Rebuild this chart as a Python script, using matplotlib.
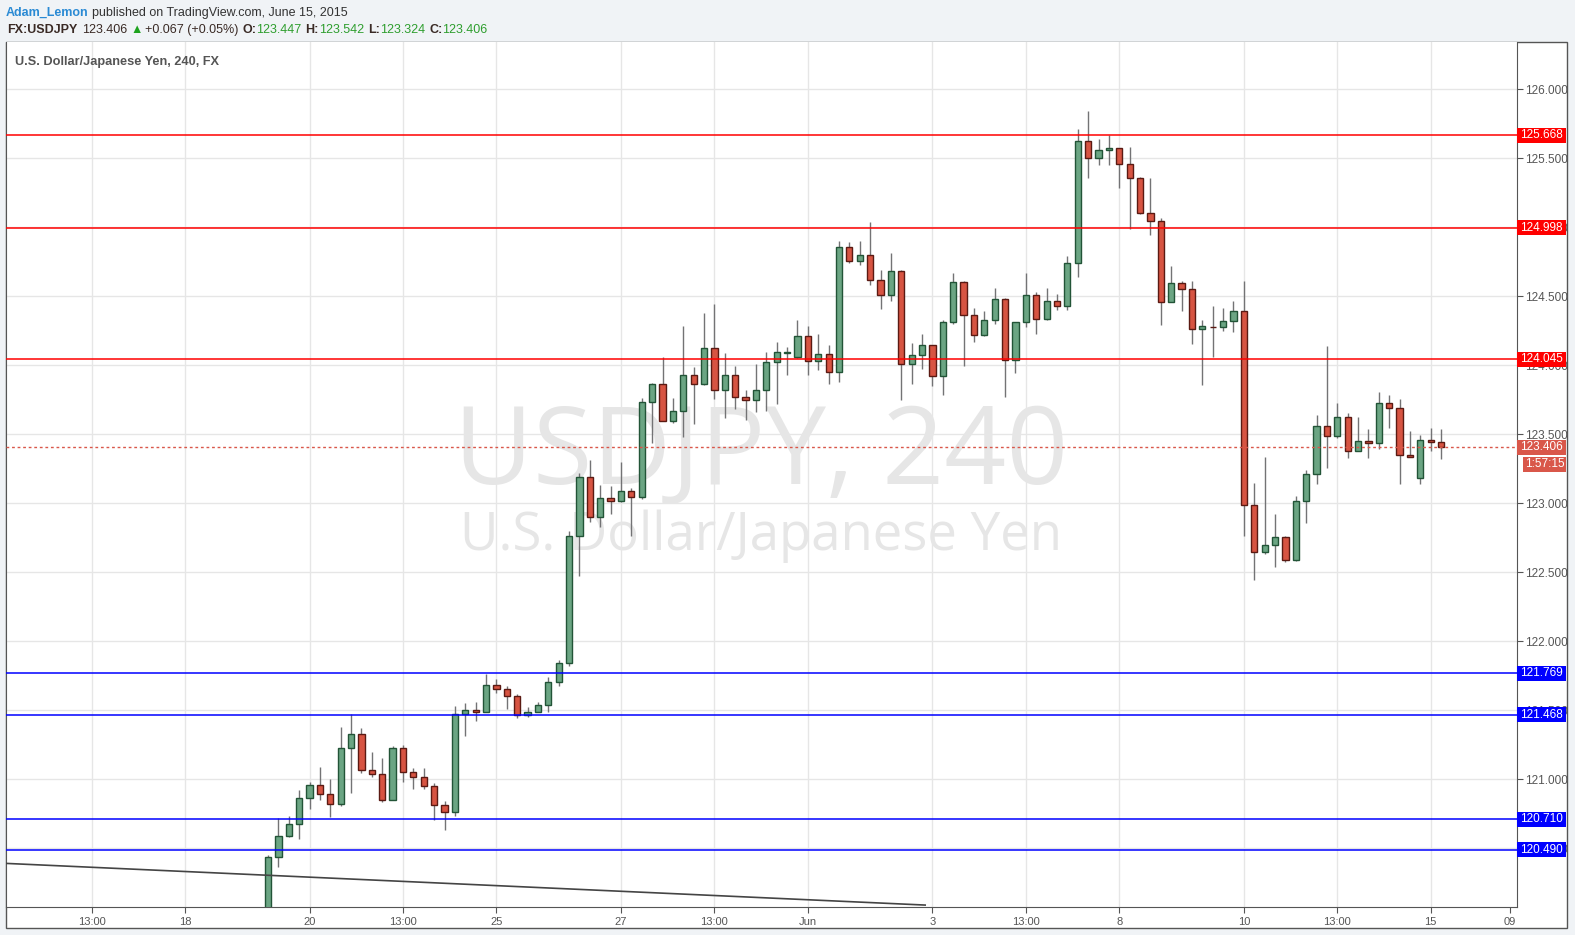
import matplotlib
matplotlib.use('Agg')
import matplotlib.pyplot as plt
import numpy as np
from matplotlib.patches import Rectangle
from matplotlib.transforms import blended_transform_factory

plt.rcParams['font.family'] = ['Liberation Sans', 'DejaVu Sans']

# USDJPY 4h candles (index 0 = first candle visible in the window)
opens = [119.95, 120.435, 120.587, 120.674, 120.862, 120.956, 120.891, 120.819, 121.224, 121.326,
         121.065, 121.036, 120.848, 121.224, 121.050, 121.014, 120.949, 120.811, 120.765, 121.471,
         121.500, 121.485, 121.681, 121.652, 121.601, 121.463, 121.485, 121.536, 121.703, 121.840,
         122.763, 123.188, 122.898, 123.036, 123.014, 123.087, 123.043, 123.732, 123.862, 123.594,
         123.666, 123.927, 123.862, 124.123, 123.819, 123.927, 123.768, 123.746, 123.819, 124.021,
         124.092, 124.058, 124.210, 124.029, 124.080, 123.949, 124.855, 124.753, 124.797, 124.616,
         124.507, 124.681, 124.007, 124.072, 124.145, 123.920, 124.311, 124.601, 124.362, 124.217,
         124.326, 124.478, 124.036, 124.311, 124.507, 124.333, 124.464, 124.427, 124.739, 125.623,
         125.500, 125.558, 125.572, 125.456, 125.355, 125.101, 125.043, 124.456, 124.594, 124.550,
         124.261, 124.280, 124.275, 124.319, 124.391, 122.985, 122.645, 122.695, 122.753, 122.587,
         123.014, 123.210, 123.558, 123.485, 123.623, 123.377, 123.449, 123.435, 123.724, 123.688,
         123.348, 123.181, 123.456, 123.447]
highs = [120.45, 120.717, 120.734, 120.922, 120.978, 121.089, 121.002, 121.379, 121.471, 121.372,
         121.198, 121.154, 121.241, 121.246, 121.082, 121.082, 120.971, 120.843, 121.531, 121.555,
         121.560, 121.765, 121.727, 121.676, 121.620, 121.524, 121.560, 121.741, 121.865, 122.802,
         123.222, 123.314, 123.133, 123.125, 123.299, 123.108, 123.763, 123.872, 124.058, 123.763,
         124.285, 123.985, 124.379, 124.444, 124.089, 123.995, 123.821, 124.009, 124.096, 124.169,
         124.130, 124.326, 124.285, 124.227, 124.147, 124.898, 124.891, 124.898, 125.036, 124.688,
         124.811, 124.688, 124.159, 124.224, 124.150, 124.326, 124.666, 124.609, 124.413, 124.391,
         124.558, 124.485, 124.315, 124.666, 124.529, 124.558, 124.514, 124.790, 125.710, 125.840,
         125.638, 125.666, 125.575, 125.579, 125.362, 125.355, 125.065, 124.717, 124.608, 124.608,
         124.326, 124.427, 124.413, 124.464, 124.611, 123.147, 123.333, 122.920, 122.761, 123.050,
         123.239, 123.638, 124.137, 123.724, 123.652, 123.623, 123.536, 123.804, 123.782, 123.753,
         123.522, 123.493, 123.543, 123.542]
lows = [119.90, 120.367, 120.585, 120.567, 120.787, 120.852, 120.729, 120.809, 120.903, 121.043,
        121.019, 120.838, 120.848, 120.983, 120.932, 120.932, 120.707, 120.635, 120.736, 121.314,
        121.425, 121.485, 121.623, 121.512, 121.442, 121.449, 121.485, 121.485, 121.676, 121.821,
        122.476, 122.867, 122.831, 122.920, 123.010, 122.766, 123.029, 123.435, 123.594, 123.580,
        123.483, 123.577, 123.855, 123.753, 123.616, 123.681, 123.601, 123.659, 123.666, 123.717,
        123.932, 124.050, 123.932, 123.968, 123.862, 123.881, 124.739, 124.724, 124.580, 124.410,
        124.468, 123.746, 123.867, 123.971, 123.848, 123.782, 124.297, 123.993, 124.166, 124.210,
        124.297, 123.768, 123.942, 124.275, 124.224, 124.330, 124.398, 124.398, 124.637, 125.355,
        125.449, 125.449, 125.282, 124.985, 125.100, 124.942, 124.290, 124.456, 124.391, 124.152,
        123.855, 124.058, 124.246, 124.239, 122.766, 122.447, 122.630, 122.536, 122.572, 122.580,
        122.855, 123.137, 123.254, 123.471, 123.326, 123.377, 123.326, 123.391, 123.543, 123.137,
        123.333, 123.137, 123.377, 123.324]
closes = [120.435, 120.587, 120.674, 120.862, 120.956, 120.891, 120.819, 121.224, 121.326, 121.065,
          121.036, 120.848, 121.224, 121.050, 121.014, 120.949, 120.811, 120.765, 121.471, 121.500,
          121.485, 121.681, 121.652, 121.601, 121.463, 121.485, 121.536, 121.703, 121.840, 122.763,
          123.188, 122.898, 123.036, 123.014, 123.087, 123.043, 123.732, 123.862, 123.594, 123.666,
          123.927, 123.862, 124.123, 123.819, 123.927, 123.768, 123.746, 123.819, 124.021, 124.094,
          124.096, 124.210, 124.029, 124.080, 123.949, 124.855, 124.753, 124.797, 124.616, 124.507,
          124.681, 124.007, 124.072, 124.145, 123.920, 124.311, 124.601, 124.362, 124.217, 124.326,
          124.478, 124.036, 124.311, 124.507, 124.333, 124.464, 124.427, 124.739, 125.623, 125.500,
          125.558, 125.572, 125.456, 125.355, 125.101, 125.043, 124.456, 124.594, 124.550, 124.261,
          124.282, 124.275, 124.319, 124.391, 122.985, 122.645, 122.695, 122.753, 122.587, 123.014,
          123.210, 123.558, 123.485, 123.623, 123.377, 123.449, 123.435, 123.724, 123.688, 123.348,
          123.333, 123.456, 123.442, 123.406]

red_levels = [125.668, 124.998, 124.045]
blue_levels = [121.769, 121.468, 120.710, 120.490]
trend_idx = [-25.24, 63.3]
trend_px = [120.391, 120.089]
last_price = 123.406
countdown = '1:57:15'

xtick_idx = [-17, -8, 4, 13, 22, 34, 43, 52, 64, 73, 82, 94, 103, 112, 119.6]
xtick_lab = ['13:00', '18', '20', '13:00', '25', '27', '13:00', 'Jun', '3', '13:00', '8', '10', '13:00', '15', '09']
ytick_vals = [120.5, 121.0, 121.5, 122.0, 122.5, 123.0, 123.5, 124.0, 124.5, 125.0, 125.5, 126.0]

W, H = 1575, 935
fig = plt.figure(figsize=(W / 100, H / 100), dpi=100, facecolor='#f0f3f6')

# white chart panel
fig.patches.append(Rectangle((6 / W, 1 - 928 / H), (1567 - 6) / W, (928 - 42) / H,
                             transform=fig.transFigure, facecolor='white',
                             edgecolor='#555555', lw=1, zorder=-5))

ax = fig.add_axes([6 / W, 1 - 907 / H, (1517 - 6) / W, (907 - 42) / H], zorder=2)
ax.set_facecolor('white')
ax.set_xlim(-25.24, 120.31)
ax.set_ylim(120.075, 126.343)

ax.set_xticks(xtick_idx)
ax.set_xticklabels(xtick_lab)
ax.set_yticks(ytick_vals)
ax.set_yticklabels(['%.3f' % v for v in ytick_vals])
ax.yaxis.tick_right()
ax.grid(True, color='#e6e6e6', lw=1)
ax.xaxis.get_gridlines()[-1].set_visible(False)
ax.set_axisbelow(True)
ax.tick_params(axis='x', direction='out', length=4, color='#555555', labelcolor='#555555',
               labelsize=8, pad=3)
ax.tick_params(axis='y', direction='out', length=4, color='#555555', labelcolor='#555555',
               labelsize=8.5, pad=2)
ax.spines['top'].set_visible(False)
for s in ['left', 'bottom', 'right']:
    ax.spines[s].set_color('#555555')

# watermark
ax.text(0.5, (484 - 907) / (42 - 907), 'USDJPY, 240', transform=ax.transAxes, ha='center',
        va='baseline', fontsize=78, color='#e6e6e6', family='Open Sans', zorder=0)
ax.text(0.5, (550 - 907) / (42 - 907), 'U.S. Dollar/Japanese Yen', transform=ax.transAxes,
        ha='center', va='baseline', fontsize=38, color='#e6e6e6', family='Open Sans', zorder=0)

ax.text(9 / 1511, 1 - 20 / 865, 'U.S. Dollar/Japanese Yen, 240, FX', transform=ax.transAxes,
        ha='left', va='center', fontsize=9.2, fontweight='bold', color='#555555')

# candles
o = np.array(opens)
h = np.array(highs)
l = np.array(lows)
c = np.array(closes)
x = np.arange(len(o))
up = c >= o
lo = np.minimum(o, c)
ht = np.maximum(np.abs(c - o), 0.004)
ax.vlines(x, l, h, color='#737375', lw=1, zorder=2)
ax.bar(x[up], ht[up], bottom=lo[up], width=0.6, color='#6ba583', edgecolor='#225437',
       lw=1, zorder=3)
ax.bar(x[~up], ht[~up], bottom=lo[~up], width=0.6, color='#d75442', edgecolor='#5b1a13',
       lw=1, zorder=3)

# horizontal levels and trend line
for v in red_levels:
    ax.axhline(v, color='#ff0000', lw=1.1, zorder=4)
for v in blue_levels:
    ax.axhline(v, color='#0000ff', lw=1.1, zorder=4)
ax.plot(trend_idx, trend_px, color='#444444', lw=1.2, zorder=4)
ax.axhline(last_price, color='#d9574a', lw=1, ls=(0, (2, 2)), zorder=4)

# price labels on the right axis
bt = blended_transform_factory(ax.transAxes, ax.transData)
bw = 49 / 1511
bh = 15 / 138.0


def price_box(v, fc, txt, x0=1.0):
    ax.add_patch(Rectangle((x0, v - bh / 2), 1 + bw - x0, bh, transform=bt, facecolor=fc,
                           edgecolor='none', clip_on=False, zorder=10))
    ax.text((x0 + 1 + bw) / 2, v, txt, transform=bt, ha='center', va='center', color='white',
            fontsize=8.5, clip_on=False, zorder=11)


for v in red_levels:
    price_box(v, '#ff0000', '%.3f' % v)
for v in blue_levels:
    price_box(v, '#0000ff', '%.3f' % v)
price_box(last_price, '#d9574a', '%.3f' % last_price)
price_box(last_price - 17 / 138.0, '#d9574a', countdown, x0=1 + 6 / 1511)

# header
renderer = fig.canvas.get_renderer()


def run(pieces, x0, y0):
    xx = x0
    for s, col, wt, gap in pieces:
        t = fig.text(xx / W, 1 - y0 / H, s, color=col, fontweight=wt, fontsize=9,
                     va='baseline', ha='left')
        xx += t.get_window_extent(renderer).width + gap


run([('Adam_Lemon', '#2a8ad4', 'bold', 3),
     ('published on TradingView.com, June 15, 2015', '#333333', 'normal', 0)], 6, 16)
g = '#2e9e2e'
k = '#3a2a25'
run([('FX:USDJPY', k, 'bold', 5), ('123.406', k, 'normal', 3), ('▲', '#1ea31e', 'normal', 2),
     ('+0.067 (+0.05%)', k, 'normal', 4),
     ('O:', k, 'bold', 0), ('123.447', g, 'normal', 4),
     ('H:', k, 'bold', 0), ('123.542', g, 'normal', 4),
     ('L:', k, 'bold', 0), ('123.324', g, 'normal', 4),
     ('C:', k, 'bold', 0), ('123.406', g, 'normal', 0)], 7, 33)

fig.savefig('out.png', dpi=100, facecolor=fig.get_facecolor())
